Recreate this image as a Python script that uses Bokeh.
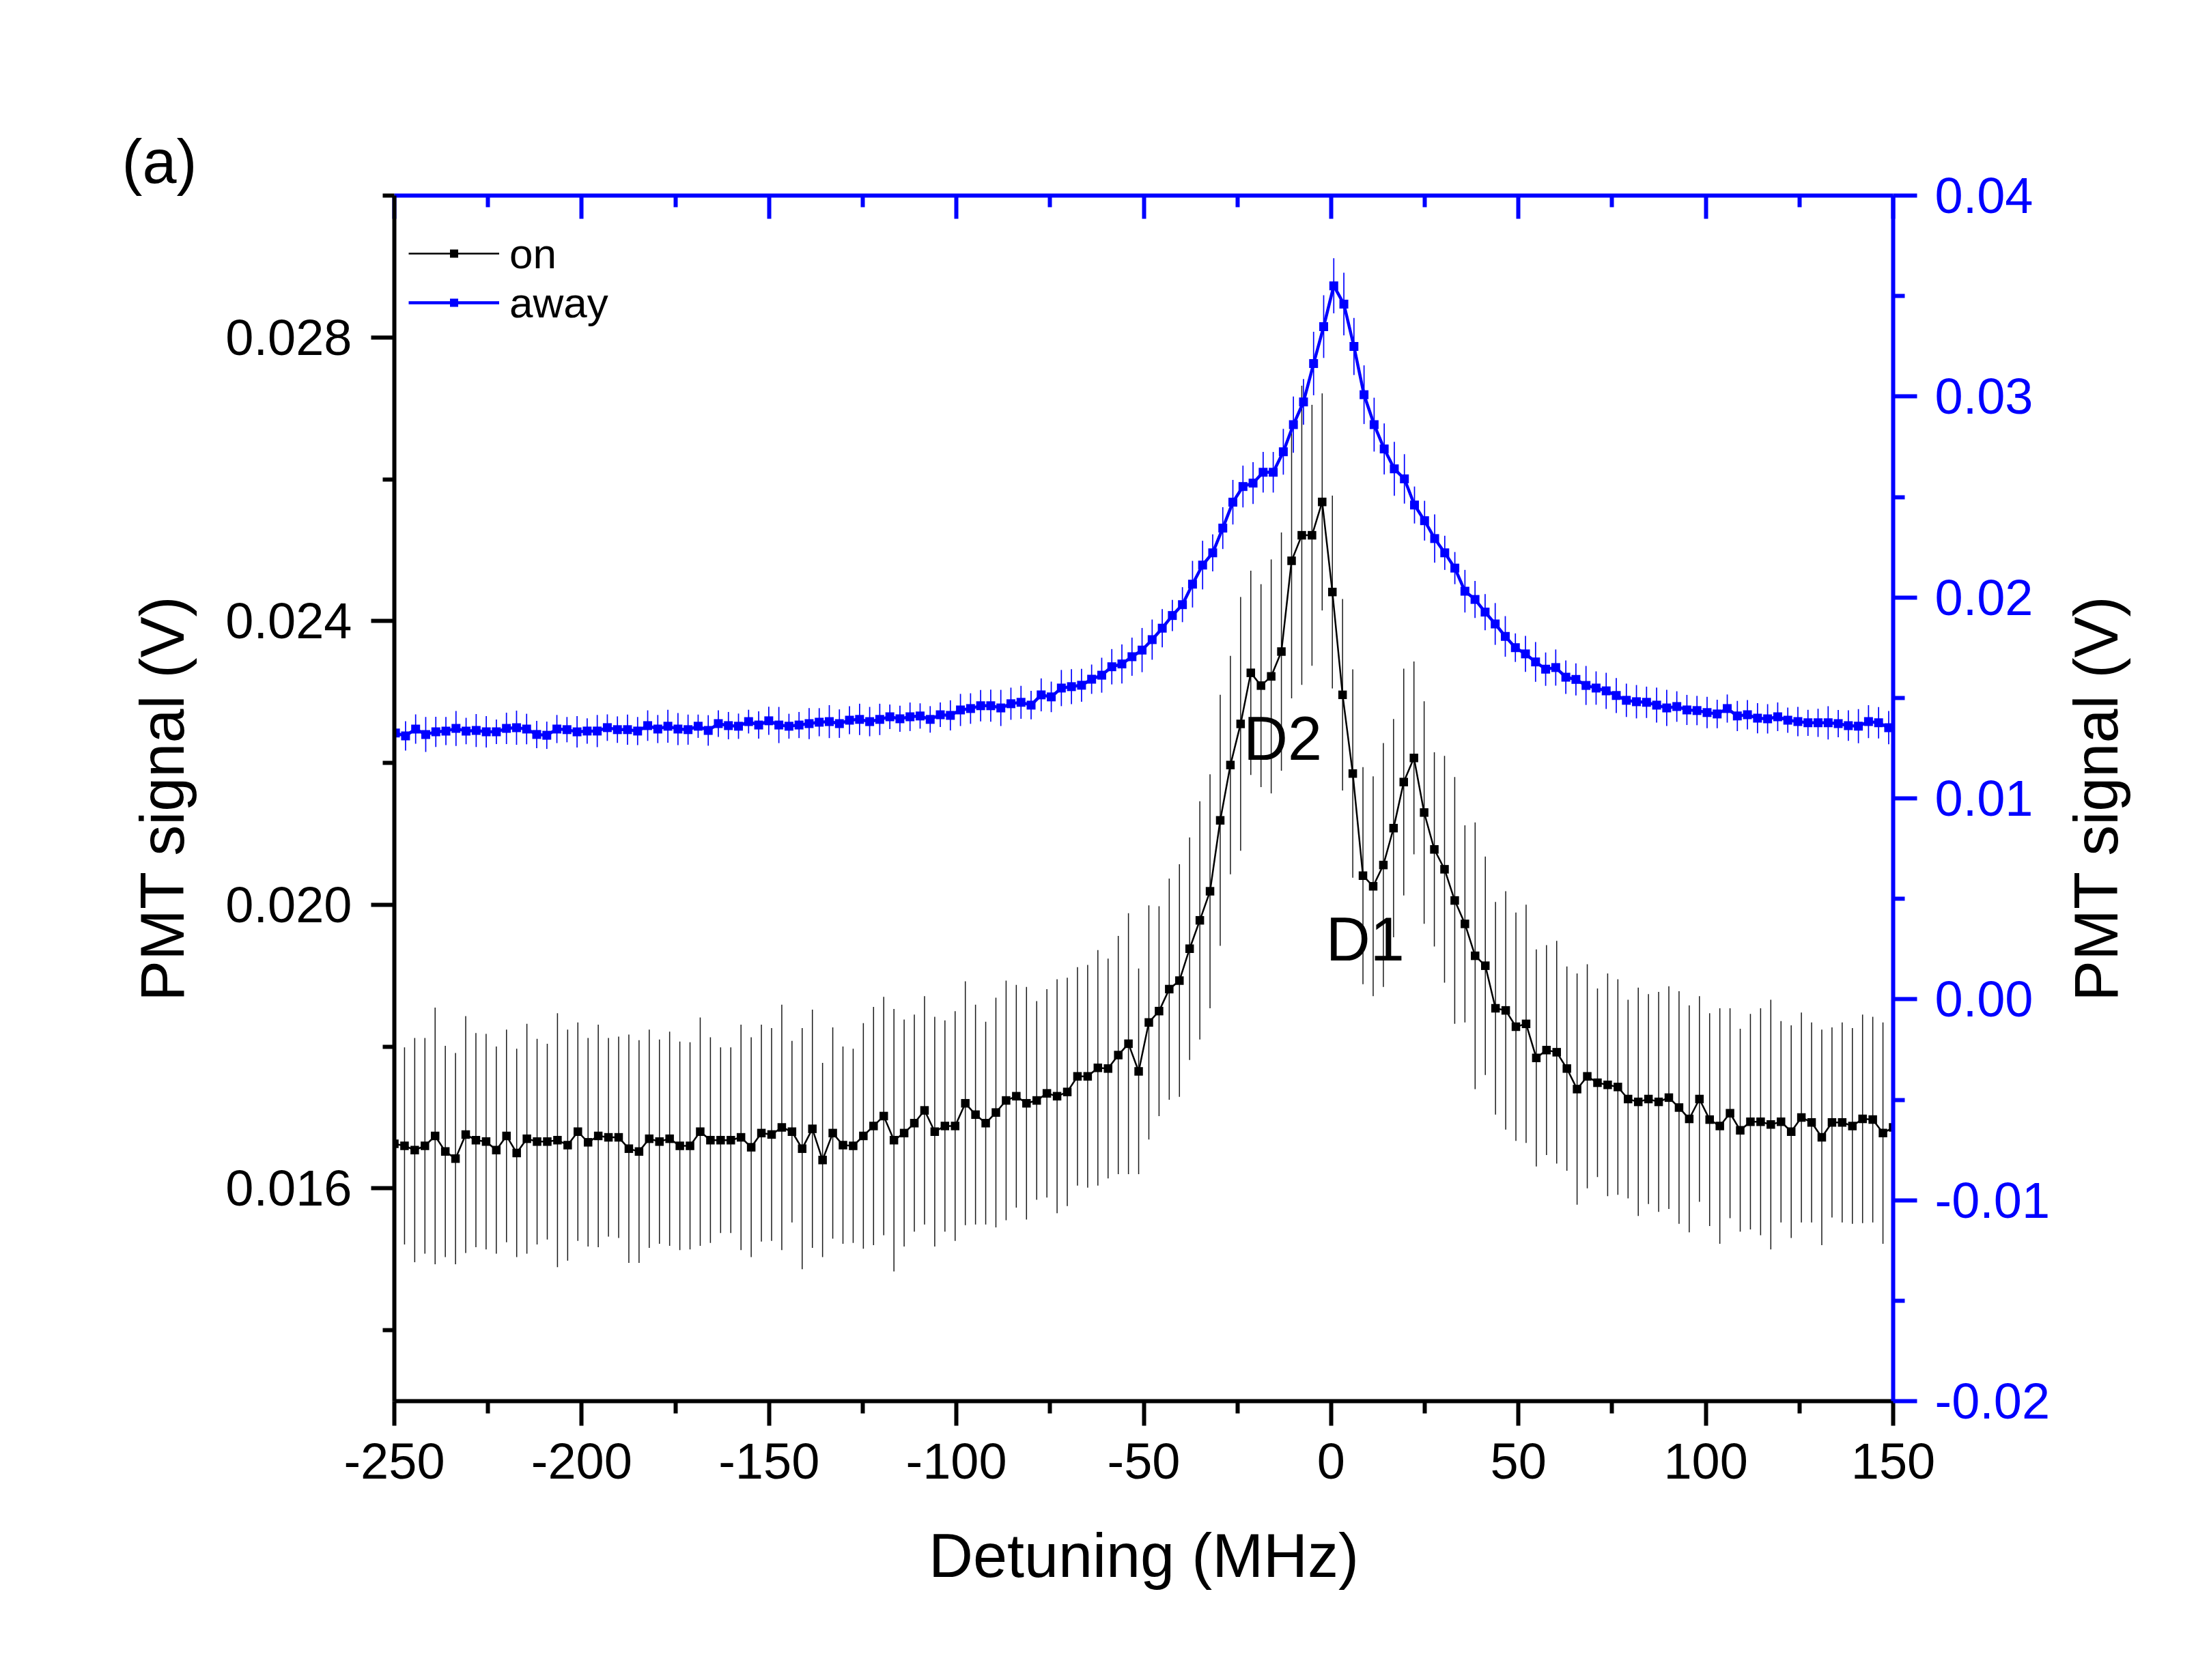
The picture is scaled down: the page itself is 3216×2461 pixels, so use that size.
import numpy as np
from bokeh.plotting import figure
from bokeh.layouts import row
from bokeh.models import (ColumnDataSource, Range1d, LinearAxis, FixedTicker,
                          PrintfTickFormatter, Label, Legend, LegendItem, Title)
from bokeh.embed import file_html
from bokeh.resources import INLINE

# ---------------- data ----------------
# detuning grids (MHz): evenly stepped scans
ON_START, ON_STEP, ON_N = -250.0, 400.0 / 147, 148
AWAY_START, AWAY_STEP, AWAY_N = -249.7, 2.6926, 149

on_signal = [
    0.01663, 0.01660, 0.01654, 0.01660, 0.01674, 0.01652, 0.01642, 0.01676, 0.01668, 0.01666,
    0.01654, 0.01674, 0.01650, 0.01670, 0.01666, 0.01666, 0.01668, 0.01661, 0.01680, 0.01665,
    0.01674, 0.01672, 0.01672, 0.01656, 0.01652, 0.01670, 0.01666, 0.01670, 0.01660, 0.01660,
    0.01680, 0.01668, 0.01668, 0.01668, 0.01672, 0.01658, 0.01678, 0.01676, 0.01686, 0.01680,
    0.01656, 0.01684, 0.01640, 0.01678, 0.01661, 0.01660, 0.01674, 0.01688, 0.01702, 0.01668,
    0.01678, 0.01692, 0.01710, 0.01680, 0.01688, 0.01688, 0.01720, 0.01704, 0.01692, 0.01707,
    0.01724, 0.01730, 0.01720, 0.01724, 0.01734, 0.01730, 0.01736, 0.01758, 0.01758, 0.01770,
    0.01769, 0.01788, 0.01804, 0.01765, 0.01834, 0.01850, 0.01881, 0.01893, 0.01938, 0.01978,
    0.02019, 0.02119, 0.02197, 0.02255, 0.02327, 0.02309, 0.02322, 0.02357, 0.02485, 0.02521,
    0.02521, 0.02568, 0.02441, 0.02296, 0.02185, 0.02041, 0.02026, 0.02056, 0.02108, 0.02173,
    0.02207, 0.02130, 0.02078, 0.02050, 0.02006, 0.01973, 0.01928, 0.01914, 0.01854, 0.01851,
    0.01828, 0.01832, 0.01784, 0.01795, 0.01792, 0.01769, 0.01740, 0.01758, 0.01749, 0.01746,
    0.01743, 0.01726, 0.01722, 0.01726, 0.01722, 0.01728, 0.01714, 0.01698, 0.01726, 0.01697,
    0.01688, 0.01706, 0.01682, 0.01694, 0.01694, 0.01690, 0.01694, 0.01680, 0.01700, 0.01693,
    0.01672, 0.01693, 0.01693, 0.01688, 0.01698, 0.01697, 0.01678, 0.01686,
]

# error bars (mV)
on_err_mV = [
    1.65, 1.39, 1.58, 1.52, 1.81, 1.49, 1.49, 1.67, 1.51, 1.52,
    1.46, 1.50, 1.47, 1.62, 1.45, 1.38, 1.79, 1.63, 1.54, 1.47,
    1.57, 1.40, 1.42, 1.61, 1.57, 1.54, 1.44, 1.51, 1.47, 1.46,
    1.61, 1.45, 1.31, 1.31, 1.59, 1.55, 1.53, 1.50, 1.73, 1.28,
    1.70, 1.68, 1.37, 1.49, 1.39, 1.37, 1.59, 1.68, 1.68, 1.85,
    1.60, 1.53, 1.61, 1.62, 1.49, 1.62, 1.72, 1.55, 1.43, 1.62,
    1.69, 1.57, 1.64, 1.40, 1.47, 1.65, 1.61, 1.54, 1.57, 1.66,
    1.55, 1.68, 1.84, 1.45, 1.65, 1.48, 1.56, 1.64, 1.57, 1.68,
    1.65, 1.77, 1.54, 1.79, 1.44, 1.43, 1.65, 1.68, 1.94, 2.11,
    1.84, 1.53, 1.36, 1.35, 1.47, 1.53, 1.55, 1.72, 1.54, 1.60,
    1.36, 1.57, 1.37, 1.60, 1.74, 1.39, 1.88, 1.54, 1.50, 1.68,
    1.61, 1.68, 1.53, 1.48, 1.57, 1.44, 1.63, 1.58, 1.33, 1.57,
    1.52, 1.40, 1.61, 1.48, 1.55, 1.57, 1.64, 1.60, 1.45, 1.50,
    1.66, 1.48, 1.43, 1.52, 1.60, 1.76, 1.42, 1.50, 1.48, 1.41,
    1.52, 1.34, 1.41, 1.38, 1.47, 1.45, 1.56, 1.60,
]

away_signal = [
    0.01325, 0.01311, 0.01345, 0.01318, 0.01331, 0.01335, 0.01348, 0.01335, 0.01338, 0.01331,
    0.01331, 0.01348, 0.01352, 0.01345, 0.01318, 0.01314, 0.01345, 0.01342, 0.01331, 0.01335,
    0.01335, 0.01352, 0.01342, 0.01342, 0.01335, 0.01362, 0.01345, 0.01359, 0.01345, 0.01342,
    0.01359, 0.01338, 0.01372, 0.01362, 0.01359, 0.01382, 0.01365, 0.01386, 0.01365, 0.01359,
    0.01365, 0.01372, 0.01379, 0.01382, 0.01372, 0.01389, 0.01393, 0.01382, 0.01393, 0.01406,
    0.01396, 0.01406, 0.01410, 0.01393, 0.01416, 0.01413, 0.01440, 0.01447, 0.01461, 0.01461,
    0.01450, 0.01471, 0.01478, 0.01464, 0.01515, 0.01505, 0.01549, 0.01556, 0.01563, 0.01593,
    0.01613, 0.01655, 0.01669, 0.01705, 0.01738, 0.01790, 0.01847, 0.01910, 0.01964, 0.02066,
    0.02161, 0.02222, 0.02345, 0.02474, 0.02552, 0.02569, 0.02623, 0.02623, 0.02725, 0.02860,
    0.02973, 0.03164, 0.03348, 0.03551, 0.03460, 0.03249, 0.03009, 0.02860, 0.02739, 0.02640,
    0.02590, 0.02460, 0.02382, 0.02293, 0.02222, 0.02146, 0.02031, 0.01990, 0.01927, 0.01868,
    0.01806, 0.01750, 0.01719, 0.01679, 0.01643, 0.01651, 0.01603, 0.01592, 0.01562, 0.01549,
    0.01535, 0.01512, 0.01488, 0.01481, 0.01478, 0.01464, 0.01450, 0.01457, 0.01440, 0.01437,
    0.01427, 0.01420, 0.01447, 0.01410, 0.01416, 0.01399, 0.01396, 0.01406, 0.01389, 0.01382,
    0.01376, 0.01376, 0.01376, 0.01372, 0.01362, 0.01359, 0.01382, 0.01376, 0.01352,
]

away_err_mV = [
    0.79, 0.73, 0.73, 0.87, 0.75, 0.70, 0.87, 0.66, 0.82, 0.78,
    0.61, 0.78, 0.85, 0.76, 0.68, 0.68, 0.70, 0.63, 0.78, 0.63,
    0.80, 0.66, 0.66, 0.75, 0.70, 0.76, 0.70, 0.82, 0.80, 0.75,
    0.58, 0.76, 0.66, 0.68, 0.63, 0.59, 0.68, 0.70, 0.90, 0.62,
    0.65, 0.77, 0.70, 0.82, 0.71, 0.70, 0.78, 0.73, 0.78, 0.61,
    0.65, 0.71, 0.63, 0.66, 0.61, 0.75, 0.80, 0.76, 0.78, 0.80,
    0.90, 0.80, 0.82, 0.71, 0.82, 0.76, 0.90, 0.87, 0.82, 0.73,
    0.87, 0.88, 0.97, 0.95, 1.10, 1.00, 0.95, 0.78, 0.87, 1.16,
    1.21, 0.92, 1.04, 1.11, 1.04, 1.04, 1.01, 1.01, 1.14, 1.40,
    1.14, 1.58, 1.56, 1.37, 1.56, 1.42, 1.46, 1.34, 1.27, 1.34,
    1.23, 0.92, 0.99, 1.20, 0.85, 0.80, 1.06, 0.92, 0.90, 1.04,
    1.01, 0.71, 0.90, 0.99, 0.83, 0.90, 0.83, 0.80, 0.97, 0.83,
    0.90, 0.87, 0.83, 0.83, 0.78, 0.87, 0.90, 0.76, 0.75, 0.73,
    0.78, 0.71, 0.70, 0.75, 0.73, 0.75, 0.73, 0.71, 0.63, 0.73,
    0.65, 0.70, 0.83, 0.68, 0.76, 0.85, 0.82, 0.78, 0.83,
]

x_ticks = [-250, -200, -150, -100, -50, 0, 50, 100, 150]
x_minor = [-225, -175, -125, -75, -25, 25, 75, 125]
left_ticks = [0.016, 0.020, 0.024, 0.028]
left_minor = [0.014, 0.018, 0.022, 0.026, 0.030]
right_ticks = [-0.02, -0.01, 0.0, 0.01, 0.02, 0.03, 0.04]
right_minor = [-0.015, -0.005, 0.005, 0.015, 0.025, 0.035]

# ---------------- build sources ----------------
on_x = ON_START + ON_STEP * np.arange(ON_N)
away_x = AWAY_START + AWAY_STEP * np.arange(AWAY_N)
on_y = np.array(on_signal)
on_e = np.array(on_err_mV) * 1e-3
away_y = np.array(away_signal)
away_e = np.array(away_err_mV) * 1e-3

on_src = ColumnDataSource(dict(x=on_x, y=on_y, lo=on_y - on_e, hi=on_y + on_e))
away_src = ColumnDataSource(dict(x=away_x, y=away_y, lo=away_y - away_e, hi=away_y + away_e))

FONT = "Liberation Sans"
BLUE = "#0000FF"
W, H = 3016, 2445          # main figure
W2 = 184                   # thin side figure carrying the right-hand title
FL, FR, FT, FB = 577, 2772, 286, 2052   # frame edges on the page

p = figure(width=W, height=H, output_backend="svg", toolbar_location=None,
           x_range=Range1d(-250, 150), y_range=Range1d(0.013, 0.030),
           min_border_left=FL, min_border_right=W - FR,
           min_border_top=FT, min_border_bottom=H - FB)
p.extra_y_ranges = {"right": Range1d(-0.02, 0.04)}
p.outline_line_color = None
p.xgrid.visible = False
p.ygrid.visible = False
p.background_fill_color = "white"
p.border_fill_color = "white"

def style_axis(ax, color, tin, tout, mtin, mtout):
    ax.axis_line_color = color
    ax.axis_line_width = 6
    ax.major_tick_line_color = color
    ax.major_tick_line_width = 6
    ax.minor_tick_line_color = color
    ax.minor_tick_line_width = 6
    ax.major_tick_in = tin
    ax.major_tick_out = tout
    ax.minor_tick_in = mtin
    ax.minor_tick_out = mtout
    ax.major_label_text_font = FONT
    ax.major_label_text_font_size = "74px"
    ax.axis_label_text_font = FONT
    ax.axis_label_text_font_size = "90px"
    ax.axis_label_text_font_style = "normal"
    ax.axis_label_text_color = "black"

xax = p.below[0]
style_axis(xax, "black", 0, 36, 0, 18)
xax.ticker = FixedTicker(ticks=x_ticks, minor_ticks=x_minor)
xax.formatter = PrintfTickFormatter(format="%d")
xax.major_label_text_color = "black"
xax.major_label_standoff = 26
xax.axis_label = "Detuning (MHz)"
xax.axis_label_standoff = 60

yax = p.left[0]
style_axis(yax, "black", 0, 34, 0, 17)
yax.ticker = FixedTicker(ticks=left_ticks, minor_ticks=left_minor)
yax.formatter = PrintfTickFormatter(format="%.3f")
yax.major_label_text_color = "black"
yax.major_label_standoff = 28
yax.axis_label = "PMT signal (V)"
yax.axis_label_standoff = 39

# right (blue) axis with ticks and labels
rax = LinearAxis(y_range_name="right")
style_axis(rax, BLUE, 0, 35, 0, 17)
rax.ticker = FixedTicker(ticks=right_ticks, minor_ticks=right_minor)
rax.formatter = PrintfTickFormatter(format="%.2f")
rax.major_label_text_color = BLUE
rax.major_label_standoff = 26
p.add_layout(rax, "right")

tax = LinearAxis()
style_axis(tax, BLUE, 34, 0, 17, 0)
tax.ticker = FixedTicker(ticks=x_ticks, minor_ticks=x_minor)
tax.major_label_overrides = {t: "" for t in x_ticks}
tax.major_label_text_font_size = "10px"
tax.major_label_standoff = 0
p.add_layout(tax, "above")

# panel label "(a)" as a left-aligned title above the frame
p.add_layout(Title(text="(a)", align="left", offset=-(FL - 178), standoff=0,
                   text_font=FONT, text_font_size="90px", text_font_style="normal",
                   text_color="black"), "above")

# ---------------- glyphs ----------------
p.segment(x0="x", y0="lo", x1="x", y1="hi", source=on_src,
          line_color="#1a1a1a", line_width=1.5)
on_line = p.line("x", "y", source=on_src, line_color="black", line_width=2.5)
on_pts = p.scatter("x", "y", source=on_src, marker="square", size=12.5,
                   fill_color="black", line_color="black", line_width=0)

p.segment(x0="x", y0="lo", x1="x", y1="hi", source=away_src, y_range_name="right",
          line_color=BLUE, line_width=1.7)
away_line = p.line("x", "y", source=away_src, y_range_name="right",
                   line_color=BLUE, line_width=4.5)
away_pts = p.scatter("x", "y", source=away_src, y_range_name="right", marker="square",
                     size=13, fill_color=BLUE, line_color=BLUE, line_width=0)

# ---------------- annotations ----------------
for txt, xx, yy in [("D2", -23.4, 0.02234), ("D1", -1.4, 0.01951)]:
    p.add_layout(Label(x=xx, y=yy, text=txt, text_font=FONT, text_font_size="90px",
                       text_color="black", text_align="left", text_baseline="alphabetic"))

legend = Legend(items=[LegendItem(label="on", renderers=[on_line, on_pts]),
                       LegendItem(label="away", renderers=[away_line, away_pts])],
                location=(21, 1573), glyph_width=133, glyph_height=30,
                label_height=72, label_standoff=15, spacing=0, padding=0, margin=0,
                border_line_color=None, background_fill_alpha=0,
                label_text_font=FONT, label_text_font_size="62px",
                label_text_color="black")
p.add_layout(legend)

# ---------------- right-hand title (reads bottom-to-top, like the left one) ----------------
p2 = figure(width=W2, height=H, output_backend="svg", toolbar_location=None,
            x_range=Range1d(0, 1), y_range=Range1d(0, 1), x_axis_location=None,
            min_border_left=0, min_border_right=0,
            min_border_top=FT, min_border_bottom=H - FB)
p2.outline_line_color = None
p2.xgrid.visible = False
p2.ygrid.visible = False
p2.background_fill_color = "white"
p2.border_fill_color = "white"
tl = p2.left[0]
style_axis(tl, None, 0, 0, 0, 0)
tl.axis_line_color = None
tl.major_tick_line_color = None
tl.minor_tick_line_color = None
tl.ticker = FixedTicker(ticks=[], minor_ticks=[])
tl.major_label_standoff = 0
tl.axis_label = "PMT signal (V)"
tl.axis_label_standoff = 20

layout = row(p, p2, spacing=0)
open("out.html", "w").write(file_html(layout, INLINE))
